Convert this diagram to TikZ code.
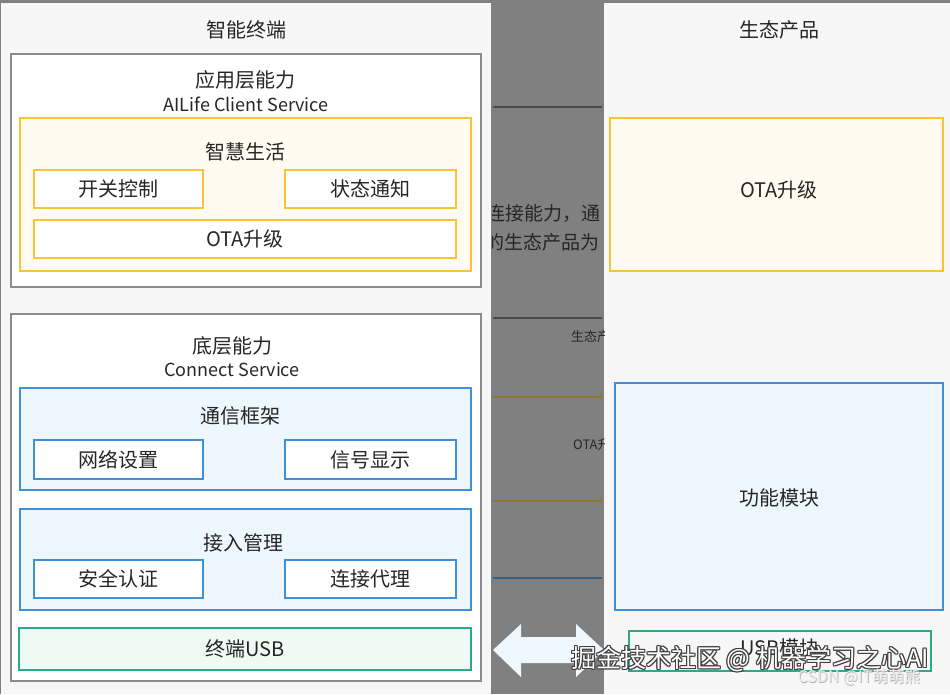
\documentclass[tikz,border=0pt]{standalone}
\usepackage{fontspec}
\setmainfont{Noto Sans CJK SC}
\definecolor{bggrey}{HTML}{808080}
\definecolor{panel}{HTML}{F7F7F7}
\definecolor{boxgrey}{HTML}{8C8C8C}
\definecolor{gold}{HTML}{FAC435}
\definecolor{goldfill}{HTML}{FFFBF0}
\definecolor{blue1}{HTML}{3F8FD9}
\definecolor{bluefill}{HTML}{EEF7FD}
\definecolor{teal1}{HTML}{2BAA8A}
\definecolor{tealfill}{HTML}{F0FAF4}
\definecolor{txt}{HTML}{262626}
\definecolor{darkline}{HTML}{4A4A4A}
\definecolor{goldline}{HTML}{8E7A2E}
\definecolor{blueline}{HTML}{3A5C80}
\definecolor{arrowfill}{HTML}{F0F8FF}
\begin{document}
\begin{tikzpicture}[x=1pt,y=-1pt,
  base/.style={font=\fontsize{20}{23}\selectfont, text=txt, inner sep=0pt},
  lat/.style={font=\fontsize{18}{21}\selectfont, text=txt, inner sep=0pt},
  greybox/.style={base, draw=boxgrey, line width=2pt, fill=white},
  goldbox/.style={base, draw=gold, line width=2.5pt, fill=goldfill},
  goldin/.style={base, draw=gold, line width=2.5pt, fill=white},
  bluebox/.style={base, draw=blue1, line width=2pt, fill=bluefill},
  bluein/.style={base, draw=blue1, line width=2pt, fill=white},
  tealbox/.style={base, draw=teal1, line width=2pt, fill=tealfill},
  frag/.style={font=\fontsize{19}{22}\selectfont, text=black!85, inner sep=0pt, anchor=west},
  fragsmall/.style={font=\fontsize{13}{15}\selectfont, text=black!85, inner sep=0pt, anchor=west},
  wm/.style={font=\fontsize{25}{27}\selectfont, inner sep=0pt},
  wmsmall/.style={font=\fontsize{16}{18}\selectfont, inner sep=0pt}
]
\useasboundingbox (0,0) rectangle (950,694);
\fill[bggrey] (0,0) rectangle (950,694);
% panels
\fill[panel] (1,3) rectangle (491,694);
\fill[panel] (604,3) rectangle (950,694);

% middle fragments
\begin{scope}
\clip (492,0) rectangle (604,694);
\draw[darkline, line width=1.2pt] (493,107) -- (602,107);
\draw[darkline, line width=1.2pt] (493,318) -- (602,318);
\draw[goldline, line width=1.4pt] (493,397) -- (602,397);
\draw[goldline, line width=1.4pt] (493,501) -- (602,501);
\draw[blueline, line width=1.4pt] (493,578) -- (602,578);
\node[frag] (f1) at (486,214) {连接能力，通};
\node[frag] (f2) at (485,242) {的生态产品为};
\node[fragsmall] (f3) at (571,337) {生态产};
\node[fragsmall] (f4) at (573,445) {OTA升};
\end{scope}

% left panel
\node[base] (t1) at (246,30) {智能终端};
\node[greybox, minimum width=470pt, minimum height=233pt] (app) at (246,170.5) {};
\node[base] (t2) at (245,80) {应用层能力};
\node[lat] (t3) at (246,104) {AILife Client Service};
\node[goldbox, minimum width=451pt, minimum height=153pt] (zh) at (245.5,194.5) {};
\node[base] (t4) at (245,152) {智慧生活};
\node[goldin, minimum width=169pt, minimum height=38pt] (kg) at (118.5,189) {开关控制};
\node[goldin, minimum width=171pt, minimum height=38pt] (zt) at (370.5,189) {状态通知};
\node[goldin, minimum width=422pt, minimum height=38pt] (ota) at (245,239) {OTA升级};

\node[greybox, minimum width=470pt, minimum height=367pt] (bot) at (246,497.5) {};
\node[base] (t5) at (232,346) {底层能力};
\node[lat] (t6) at (232,370) {Connect Service};
\node[bluebox, minimum width=451pt, minimum height=102pt] (tx) at (245.5,439) {};
\node[base] (t7) at (240,416) {通信框架};
\node[bluein, minimum width=169pt, minimum height=39pt] (wl) at (118.5,459.5) {网络设置};
\node[bluein, minimum width=171pt, minimum height=39pt] (xh) at (370.5,459.5) {信号显示};
\node[bluebox, minimum width=451pt, minimum height=101pt] (jr) at (245.5,559.5) {};
\node[base] (t8) at (243,543) {接入管理};
\node[bluein, minimum width=169pt, minimum height=38pt] (aq) at (118.5,579) {安全认证};
\node[bluein, minimum width=171pt, minimum height=38pt] (lj) at (370.5,579) {连接代理};
\node[tealbox, minimum width=452pt, minimum height=42pt] (usb) at (245,649) {终端USB};

% right panel
\node[base] (t9) at (779,30) {生态产品};
\node[goldbox, minimum width=333pt, minimum height=153pt] (rota) at (776.5,194.5) {};
\node[base] (t10) at (779,190) {OTA升级};
\node[bluebox, minimum width=328pt, minimum height=227pt] (gn) at (779,496.5) {};
\node[base] (t11) at (779,498) {功能模块};
\node[tealbox, minimum width=302pt, minimum height=40pt, fill=panel] (rusb) at (780,651) {};
\node[base] (t12) at (780,648) {USB模块};

% double arrow
\fill[arrowfill] (493,650) -- (521,624) -- (521,637) -- (576,637) -- (576,624) -- (604,650)
  -- (576,677) -- (576,663) -- (521,663) -- (521,677) -- cycle;

% watermark
\foreach \dx/\dy in {-1/0,1/0,0/-1,0/1,1/1,-1/-1,1/-1,-1/1}{
  \node[wm, text=black!75] at (750+\dx,659+\dy) {掘金技术社区 @ 机器学习之心AI};
}
\node[wm, text=white] (wm1) at (750,659) {掘金技术社区 @ 机器学习之心AI};
\node[wmsmall, text=black!30] at (859.7,677.7) {CSDN @IT萌萌熊};
\node[wmsmall, text=white!92!black] (wm2) at (859,677) {CSDN @IT萌萌熊};
\end{tikzpicture}
\end{document}
